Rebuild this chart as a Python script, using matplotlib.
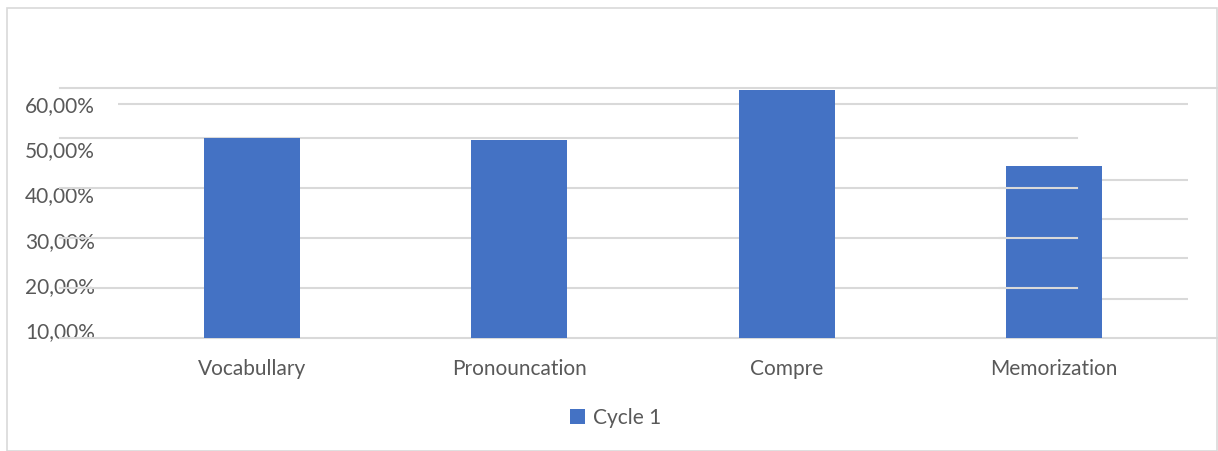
import matplotlib.pyplot as plt
from matplotlib.patches import Rectangle

categorias = ['Vocabullary', 'Pronouncation', 'Compre', 'Memorization']
cycle1 = [50.0, 49.6, 59.6, 44.4]
ticks = [10, 20, 30, 40, 50, 60]
tick_labels = ['10,00%', '20,00%', '30,00%', '40,00%', '50,00%', '60,00%']
# lineas cortas sueltas a la derecha
lineas_derecha = [17.8, 26.0, 33.8, 41.6]

azul = '#4472C4'
gris = '#D9D9D9'
texto = '#595959'

plt.rcParams['font.family'] = ['Lato', 'DejaVu Sans']

W, H = 1218, 451
fig = plt.figure(figsize=(W/100, H/100), dpi=100)
fig.patches.append(Rectangle((7/W, 0), 1 - 8/W, 1 - 8/H, transform=fig.transFigure,
                             fill=False, edgecolor=gris, lw=1.2))

ax = fig.add_axes([118/W, 1 - 338/H, 1070/W, 250/H])
ax.set_ylim(10, 60)
ax.set_xlim(-0.5, len(categorias) - 0.5)

def fx(px):
    return (px - 118) / 1070

# lineas de la cuadricula (extendidas como en la imagen)
for v in ticks[1:-1]:
    ax.axhline(v, xmin=fx(60), xmax=fx(1077), color=gris, lw=1.5, clip_on=False, zorder=0)
for v in ticks[1:4]:
    ax.axhline(v, xmin=fx(1000), xmax=fx(1077), color=gris, lw=1.5, clip_on=False, zorder=3)
ax.axhline(60, xmin=fx(60), xmax=fx(1217), color=gris, lw=1.5, clip_on=False, zorder=0)
ax.axhline(10, xmin=fx(60), xmax=fx(1217), color=gris, lw=1.5, clip_on=False, zorder=0)
for v in lineas_derecha:
    ax.axhline(v, xmin=fx(1097), xmax=fx(1188), color=gris, lw=1.5, zorder=0)

ax.bar(range(len(categorias)), cycle1, width=0.36, bottom=0, color=azul, zorder=2, label='Cycle 1')

ax.set_xticks(range(len(categorias)))
ax.set_xticklabels(categorias, fontsize=15, color=texto)
ax.tick_params(axis='x', length=0, pad=15)
ax.set_yticks([])
for s in ax.spines.values():
    s.set_visible(False)

# eje de etiquetas (otra escala)
ax2 = ax.twinx()
ax2.set_ylim(10 - 8 / 4.52, 10 + 242 / 4.52)
ax2.yaxis.tick_left()
ax2.set_yticks(ticks)
ax2.set_yticklabels(tick_labels, fontsize=15, color=texto)
ax2.tick_params(axis='y', length=0, pad=16.5)
ax2.axhline(60, xmin=0, xmax=1, color=gris, lw=1.5, zorder=0)
for s in ax2.spines.values():
    s.set_visible(False)
ax2.set_zorder(0)
ax.set_zorder(1)
ax.patch.set_visible(False)

leg = ax.legend(loc='center', bbox_to_anchor=(fx(616), (338 - 418) / 250), frameon=False,
                fontsize=15, handlelength=0.7, handleheight=0.7, handletextpad=0.4)
for t in leg.get_texts():
    t.set_color(texto)

fig.savefig('out.png', dpi=100)
